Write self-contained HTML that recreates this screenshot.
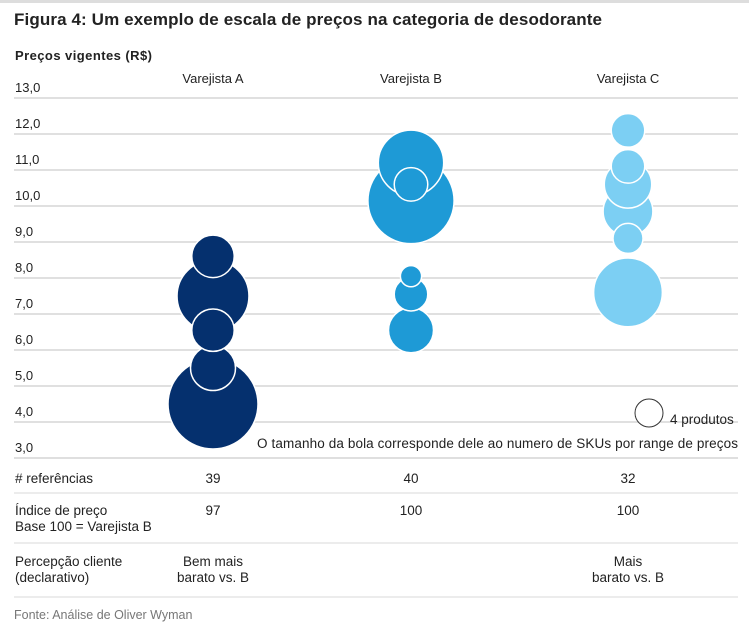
<!DOCTYPE html>
<html><head><meta charset="utf-8"><style>
body{margin:0;background:#fff;width:749px;height:629px;overflow:hidden;font-family:"Liberation Sans",sans-serif;}
svg text{font-family:"Liberation Sans",sans-serif;}
</style></head><body>
<svg id="c" width="749" height="629">
<rect x="0" y="0" width="749" height="3" fill="#ddd"/>
<text x="14" y="25" font-family="Liberation Sans, sans-serif" font-size="17" font-weight="bold" fill="#222" textLength="588" lengthAdjust="spacing">Figura 4: Um exemplo de escala de preços na categoria de desodorante</text>
<text x="15" y="60" font-family="Liberation Sans, sans-serif" font-size="13" font-weight="bold" fill="#222" textLength="137" lengthAdjust="spacing">Preços vigentes (R$)</text>
<g id="grid"></g>
<g id="bubbles"></g>
<circle cx="649" cy="413" r="14" fill="#fff" stroke="#333" stroke-width="1"/>
<text x="670" y="424" font-family="Liberation Sans, sans-serif" font-size="13.5" fill="#222">4 produtos</text>
<text x="257" y="448" font-family="Liberation Sans, sans-serif" font-size="13.5" fill="#222" textLength="481" lengthAdjust="spacing">O tamanho da bola corresponde dele ao numero de SKUs por range de preços</text>
<g id="table"></g>
<text x="14" y="619" font-size="12.5" fill="#777">Fonte: Análise de Oliver Wyman</text>
</svg>
<script>
const retailers=["Varejista A","Varejista B","Varejista C"];
const colors=["#05306e","#1e9ad6","#7ccff3"];
const yTicks=[13,12,11,10,9,8,7,6,5,4,3];
const pricesA=[4.5,7.5,8.6,5.5,6.55];
const skusA=[36,23,8,9,8];
const pricesB=[10.15,11.2,6.55,7.55,10.6,8.05];
const skusB=[33,19,9,5,5,2];
const pricesC=[7.6,9.85,10.6,11.1,12.1,9.1];
const skusC=[21,11,10,5,5,4];
const refs=["39","40","32"];
const idx=["97","100","100"];
const NS="http://www.w3.org/2000/svg";
const xPos=[213,411,628];
function y(v){return 98+(13-v)*36;}
function r(n){return 15*Math.sqrt(n/4);}
function mk(t,a,p){const e=document.createElementNS(NS,t);for(const k in a)e.setAttribute(k,a[k]);p.appendChild(e);return e;}
const grid=document.getElementById('grid');
yTicks.forEach(v=>{
 const l=mk('line',{x1:14,x2:738,y1:y(v),y2:y(v),stroke:v==3?'#ccc':'#e0e0e0','stroke-width':v==3?1.2:2},grid);
 
 
 const t=mk('text',{x:15,y:y(v)-6,'font-size':13,fill:'#222'},grid);
 t.textContent=v.toFixed(1).replace('.',',');
 
 
});
retailers.forEach((n,i)=>{
 const t=mk('text',{x:xPos[i],y:83,'font-size':13,fill:'#222','text-anchor':'middle'},grid);
 t.textContent=n;
 
 
});
const bg=document.getElementById('bubbles');
[[pricesA,skusA],[pricesB,skusB],[pricesC,skusC]].forEach((s,i)=>{
 const idxs=s[0].map((_,k)=>k).sort((a,b)=>s[1][b]-s[1][a]);
 idxs.forEach(k=>{
  const c=mk('circle',{cx:xPos[i],cy:y(s[0][k]),r:r(s[1][k]),fill:colors[i],stroke:'#fff','stroke-width':1.5},bg);
  
  
 });
});
const tb=document.getElementById('table');
function txt(x,yy,s,anchor,name){const t=mk('text',{x:x,y:yy,'font-size':13.5,fill:'#222','text-anchor':anchor},tb);t.textContent=s;}
[493,543,597].forEach(yy=>{const l=mk('line',{x1:14,x2:738,y1:yy,y2:yy,stroke:'#e0e0e0','stroke-width':1.2},tb);});
txt(15,483,'# referências','start','row-label-references');
txt(15,515,'Índice de preço','start','row-label-index');
txt(15,531,'Base 100 = Varejista B','start','row-label-index-base');
txt(15,566,'Percepção cliente','start','row-label-perception');
txt(15,582,'(declarativo)','start','row-label-perception-sub');
refs.forEach((v,i)=>txt(xPos[i],483,v,'middle','references-value'));
idx.forEach((v,i)=>txt(xPos[i],515,v,'middle','index-value'));
txt(xPos[0],566,'Bem mais','middle','perception-a');
txt(xPos[0],582,'barato vs. B','middle','perception-a');
txt(xPos[2],566,'Mais','middle','perception-c');
txt(xPos[2],582,'barato vs. B','middle','perception-c');
</script>
</body></html>
